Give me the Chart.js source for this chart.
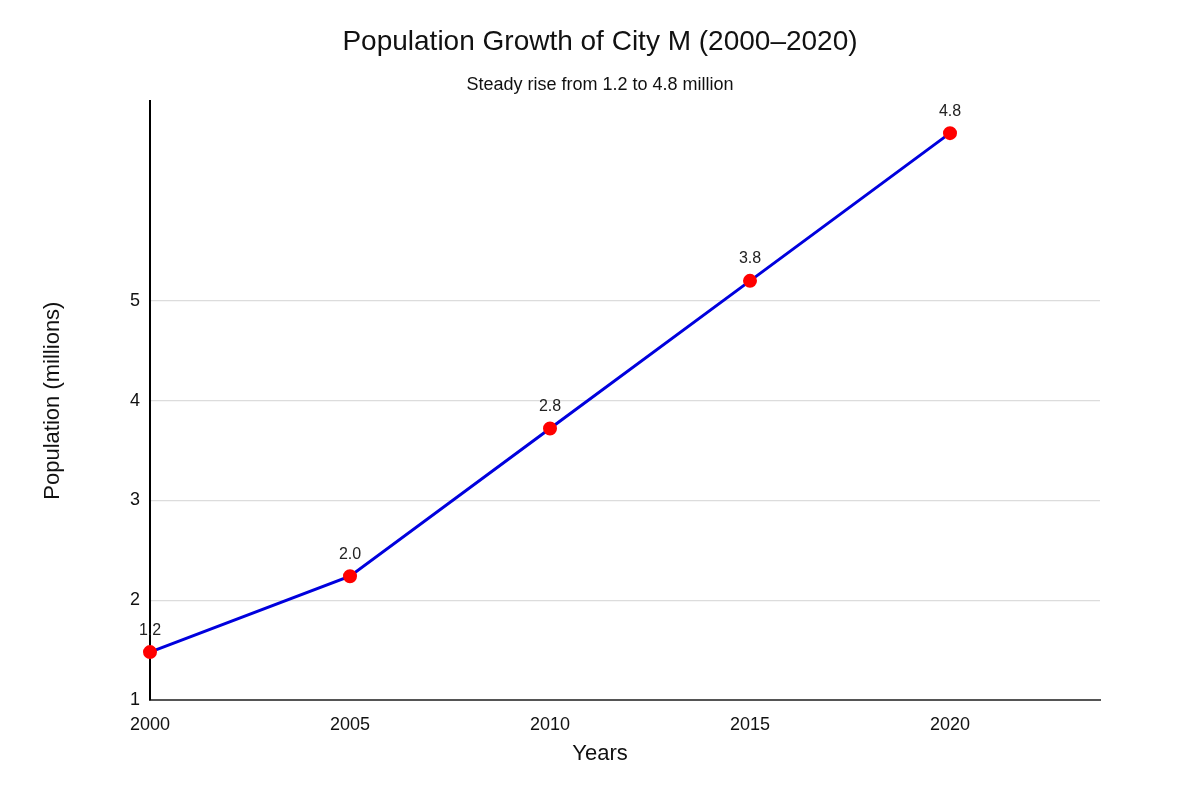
<!DOCTYPE html>
<html>
<head>
<meta charset="utf-8">
<script src="https://cdn.jsdelivr.net/npm/chart.js@4.4.1/dist/chart.umd.min.js"></script>
<style>
  html, body { margin: 0; padding: 0; background: #fff; }
  #wrap { width: 1200px; height: 800px; }
</style>
</head>
<body>
<div id="wrap"><canvas id="popChart"></canvas></div>
<script>
// years on the x axis
const years = [2000, 2005, 2010, 2015, 2020];
// where each point sits on the y scale (as drawn)
const plotted = [1.48, 2.24, 3.72, 5.2, 6.68];
// text printed above each point
const pointLabels = ['1.2', '2.0', '2.8', '3.8', '4.8'];
const yTicks = [1, 2, 3, 4, 5];
const xTicks = [2000, 2005, 2010, 2015, 2020];

const FONT = '"Liberation Sans", Arial, sans-serif';

const pointText = {
  id: 'pointText',
  afterDatasetsDraw(chart) {
    const ctx = chart.ctx;
    const meta = chart.getDatasetMeta(0);
    ctx.save();
    ctx.font = '16px ' + FONT;
    ctx.fillStyle = '#222';
    ctx.textAlign = 'center';
    ctx.textBaseline = 'middle';
    meta.data.forEach(function (pt, i) {
      ctx.fillText(pointLabels[i], pt.x, pt.y - 22);
    });
    // x axis title sits in the middle of the whole canvas, not the plot
    ctx.font = '22px ' + FONT;
    ctx.fillStyle = '#111';
    ctx.fillText('Years', chart.width / 2, chart.scales.x.bottom - 46);
    ctx.restore();
  }
};

const ctx = document.getElementById('popChart');
new Chart(ctx, {
  type: 'line',
  data: {
    datasets: [{
      label: 'Population',
      data: years.map(function (y, i) { return { x: y, y: plotted[i] }; }),
      borderColor: '#0000dd',
      borderWidth: 3,
      backgroundColor: '#ff0000',
      pointBackgroundColor: '#ff0000',
      pointBorderColor: '#ff0000',
      pointRadius: 5.5,
      pointHoverRadius: 6,
      tension: 0,
      clip: false
    }]
  },
  options: {
    responsive: true,
    maintainAspectRatio: false,
    animation: false,
    layout: { padding: { left: 50, right: 50, top: 0, bottom: 0 } },
    plugins: {
      legend: { display: false },
      tooltip: { enabled: false },
      title: {
        display: true,
        text: 'Population Growth of City M (2000–2020)',
        color: '#111',
        font: { family: FONT, size: 28, weight: 'normal' },
        padding: { top: 25, bottom: 16 }
      },
      subtitle: {
        display: true,
        text: 'Steady rise from 1.2 to 4.8 million',
        color: '#111',
        font: { family: FONT, size: 18, weight: 'normal' },
        padding: { top: 0, bottom: 5 }
      }
    },
    scales: {
      x: {
        type: 'linear',
        min: 2000,
        max: 2023.75,
        afterBuildTicks: function (scale) {
          scale.ticks = xTicks.map(function (v) { return { value: v }; });
        },
        afterFit: function (scale) { scale.height = 100; },
        grid: { display: false, drawTicks: false },
        border: { color: '#555', width: 2 },
        ticks: {
          color: '#111',
          padding: 14,
          maxRotation: 0,
          font: { family: FONT, size: 18 },
          callback: function (v) { return String(v); }
        },
        title: { display: false }
      },
      y: {
        type: 'linear',
        min: 1,
        max: 7,
        afterBuildTicks: function (scale) {
          scale.ticks = yTicks.map(function (v) { return { value: v }; });
        },
        afterFit: function (scale) { scale.width = 100; },
        grid: { color: '#dcdcdc', lineWidth: 1.2, drawTicks: false },
        border: { color: '#000', width: 2 },
        ticks: {
          color: '#111',
          padding: 10,
          font: { family: FONT, size: 18 }
        },
        title: {
          display: true,
          text: 'Population (millions)',
          color: '#111',
          font: { family: FONT, size: 22 },
          padding: { top: -10, bottom: -10 }
        }
      },
      // empty right-hand spacer so the plot ends at the same place as the reference
      spacer: {
        type: 'linear',
        position: 'right',
        min: 1,
        max: 7,
        afterFit: function (scale) { scale.width = 50; },
        grid: { display: false, drawTicks: false },
        border: { display: false },
        ticks: { display: false }
      }
    }
  },
  plugins: [pointText]
});
</script>
</body>
</html>
